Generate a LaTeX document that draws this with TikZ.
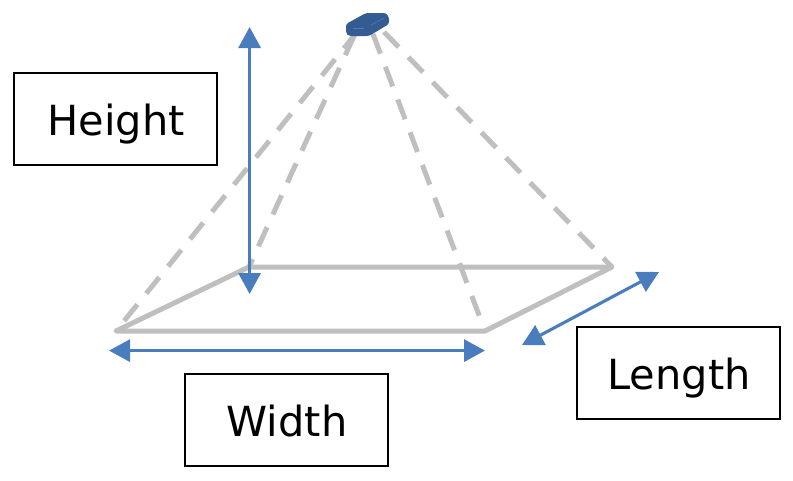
\documentclass[tikz,border=0pt]{standalone}
\usepackage{fontspec}
\setmainfont{DejaVu Sans}
\usetikzlibrary{arrows.meta}
\definecolor{blueline}{RGB}{74,125,189}
\definecolor{greyline}{RGB}{191,191,191}
\definecolor{devblue}{RGB}{52,92,146}
\tikzset{
  x=1pt,y=-1pt,
  labelbox/.style={draw=black,line width=1.5pt,minimum width=203pt,minimum height=92pt,inner sep=0pt},
  labeltext/.style={inner sep=0pt,font=\fontsize{41.5}{48}\selectfont},
  edgeline/.style={draw=greyline,line width=5pt,line cap=round,line join=round},
  rayline/.style={draw=greyline,line width=5pt,dash pattern=on 21pt off 14pt},
  dimarrow/.style={draw=blueline,line width=3.1pt,{Triangle[length=21pt,width=22pt]}-{Triangle[length=21pt,width=22pt]}},
}
\begin{document}
\begin{tikzpicture}
\useasboundingbox (0,0) rectangle (793,480);
\coordinate (apexa) at (357,32);
\coordinate (apexb) at (354,36);
\coordinate (apexc) at (373,34);
\coordinate (apexd) at (384,32);
\coordinate (fl) at (116,331);
\coordinate (bl) at (249,267);
\coordinate (br) at (612,267);
\coordinate (fr) at (485,331);
\draw[rayline] (apexa) -- (fl);
\draw[rayline] (apexb) -- (bl);
\draw[rayline] (apexc) -- (fr);
\draw[rayline] (apexd) -- (br);
\draw[edgeline] (fl) -- (bl) -- (br) -- (fr) -- cycle;
\coordinate (ha) at (249.6,27);
\coordinate (hb) at (249.6,294);
\coordinate (wa) at (109,350.6);
\coordinate (wb) at (485,350.6);
\coordinate (la) at (522,345);
\coordinate (lb) at (659,272);
\draw[dimarrow] (ha) -- (hb);
\draw[dimarrow] (wa) -- (wb);
\draw[dimarrow] (la) -- (lb);
\fill[devblue,rounded corners=2.5pt] (346,24) -- (366,13) -- (386,13) -- (389,17) -- (389,24) -- (369,36) -- (349,36) -- (346,33) -- cycle;
\draw[blueline,line width=0.8pt] (353,28) -- (364,28);
\draw[blueline,line width=0.6pt] (371,25) -- (384,18);
\node[labelbox] (height) at (115.5,119) {};
\node[labelbox] (width) at (286.5,420) {};
\node[labelbox] (length) at (678.5,373) {};
\node[labeltext,anchor=base] (heighttext) at (116,135.5) {Height};
\node[labeltext,anchor=base] (widthtext) at (287,436.5) {Width};
\node[labeltext,anchor=base] (lengthtext) at (679,389.5) {Length};
\end{tikzpicture}
\end{document}
